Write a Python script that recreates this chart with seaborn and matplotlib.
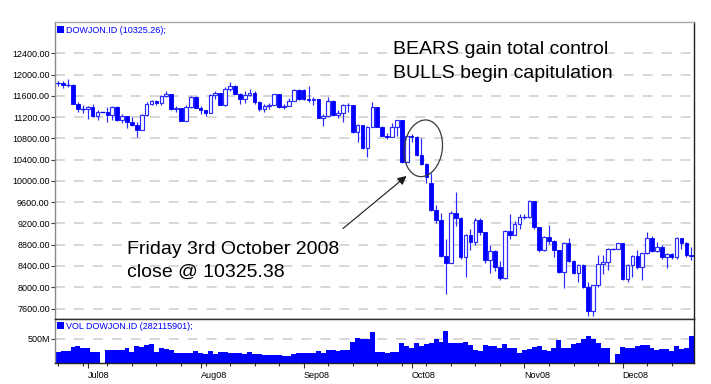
import numpy as np
import pandas as pd
import matplotlib
matplotlib.use("Agg")
import matplotlib.pyplot as plt
from matplotlib.patches import Ellipse, Rectangle
from matplotlib.transforms import IdentityTransform
import seaborn as sns

# ---------------- data ----------------
dates = pd.bdate_range("2008-06-23", "2008-12-19")  # vendor series: every weekday

opens = [11843, 11842, 11807, 11812, 11453, 11347, 11350, 11382, 11215, 11288,
         11288, 11232, 11384, 11147, 11229, 11100, 11055, 10963, 11239, 11447,
         11497, 11467, 11603, 11632, 11349, 11371, 11131, 11398, 11584, 11378,
         11326, 11284, 11616, 11656, 11431, 11734, 11782, 11642, 11533, 11616,
         11660, 11479, 11349, 11417, 11430, 11628, 11386, 11413, 11503, 11715,
         11715, 11544, 11517, 11533, 11188, 11221, 11511, 11231, 11269, 11434,
         11422, 10918, 11059, 10610, 11020, 11388, 11016, 10854, 10825, 11022,
         11143, 10365, 10851, 10831, 10483, 10325, 9956, 9447, 9258, 8579,
         8451, 9388, 9311, 8578, 8979, 8852, 9265, 9034, 8519, 8691,
         8379, 8176, 9065, 8991, 9181, 9325, 9320, 9625, 9139, 8696,
         8944, 8871, 8694, 8283, 8835, 8497, 8274, 8425, 7997, 7552,
         8046, 8443, 8479, 8727, 8727, 8829, 8149, 8419, 8592, 8376,
         8635, 8934, 8691, 8761, 8565, 8630, 8565, 8924, 8824, 8605]

highs = [11880, 11880, 11910, 11830, 11480, 11420, 11400, 11440, 11330, 11288,
         11390, 11400, 11400, 11260, 11230, 11200, 11100, 11260, 11480, 11520,
         11520, 11620, 11690, 11640, 11400, 11380, 11420, 11600, 11600, 11400,
         11340, 11630, 11700, 11660, 11760, 11860, 11800, 11660, 11700, 11720,
         11700, 11500, 11450, 11460, 11640, 11640, 11440, 11560, 11730, 11720,
         11720, 11790, 11580, 11540, 11250, 11580, 11530, 11330, 11440, 11460,
         11430, 11070, 11059, 11030, 11485, 11390, 11040, 10900, 11090, 11150,
         11143, 10853, 10880, 10840, 10800, 10330, 10140, 9540, 9400, 8900,
         9427, 9794, 9320, 9000, 9100, 9300, 9300, 9040, 8790, 8700,
         8500, 9080, 9380, 9250, 9370, 9380, 9650, 9630, 9140, 8960,
         9168, 8880, 8700, 8860, 8930, 8520, 8440, 8430, 8100, 8050,
         8600, 8600, 8740, 8727, 8840, 8830, 8430, 8610, 8700, 8650,
         9040, 8960, 8860, 8790, 8640, 8640, 8940, 8930, 8860, 8750]

lows = [11790, 11740, 11760, 11440, 11300, 11270, 11160, 11200, 11150, 11288,
        11107, 11150, 11130, 11080, 10990, 11030, 10827, 10950, 11230, 11420,
        11430, 11420, 11580, 11340, 11290, 11120, 11120, 11380, 11370, 11250,
        11230, 11280, 11550, 11420, 11400, 11700, 11630, 11440, 11460, 11590,
        11450, 11320, 11290, 11350, 11420, 11370, 11350, 11400, 11500, 11530,
        11530, 11480, 11420, 11180, 11030, 11220, 11220, 11180, 11100, 11300,
        10910, 10731, 10600, 10450, 11020, 11010, 10840, 10780, 10825, 10840,
        10330, 10365, 10740, 10460, 10300, 9953, 9430, 9200, 8570, 7882,
        8451, 9150, 8530, 8197, 8700, 8800, 8990, 8460, 8260, 8300,
        8130, 8150, 8900, 8990, 9100, 9280, 9300, 9100, 8660, 8690,
        8820, 8570, 8270, 7977, 8480, 8250, 8100, 7990, 7450, 7456,
        8000, 8250, 8322, 8727, 8720, 8140, 8100, 8200, 8350, 8134,
        8630, 8660, 8660, 8540, 8353, 8530, 8540, 8720, 8560, 8520]

closes = [11842, 11807, 11812, 11453, 11347, 11350, 11382, 11215, 11288, 11288,
          11232, 11384, 11147, 11229, 11100, 11055, 10963, 11239, 11447, 11497,
          11467, 11603, 11632, 11349, 11371, 11131, 11398, 11584, 11378, 11326,
          11284, 11616, 11656, 11431, 11734, 11782, 11642, 11533, 11616, 11660,
          11479, 11349, 11417, 11430, 11628, 11386, 11413, 11503, 11715, 11544,
          11544, 11517, 11533, 11188, 11221, 11511, 11231, 11269, 11434, 11422,
          10918, 11059, 10610, 11020, 11388, 11016, 10854, 10825, 11022, 11143,
          10365, 10851, 10831, 10483, 10325, 10078, 9447, 9258, 8579, 8451,
          9388, 9311, 8578, 8979, 8852, 9265, 9034, 8519, 8691, 8379,
          8176, 9065, 8991, 9181, 9325, 9320, 9625, 9139, 8696, 8944,
          8871, 8694, 8283, 8835, 8497, 8274, 8425, 7997, 7552, 8046,
          8443, 8479, 8727, 8727, 8829, 8149, 8419, 8592, 8376, 8635,
          8934, 8691, 8761, 8565, 8630, 8565, 8924, 8824, 8605, 8579]

volumes_m = [229, 250, 250, 333, 354, 312, 312, 229, 229, 0,
             264, 278, 264, 278, 299, 229, 354, 333, 368, 382,
             229, 299, 285, 264, 215, 215, 215, 215, 243, 208,
             194, 243, 194, 229, 229, 208, 208, 215, 194, 229,
             194, 194, 174, 174, 174, 174, 146, 146, 194, 208,
             208, 208, 208, 250, 215, 278, 278, 243, 264, 264,
             437, 507, 486, 493, 632, 229, 229, 208, 236, 236,
             403, 347, 299, 403, 347, 389, 403, 486, 424, 660,
             417, 417, 403, 424, 368, 264, 243, 368, 354, 354,
             312, 382, 312, 319, 215, 264, 285, 333, 347, 264,
             257, 299, 472, 312, 312, 382, 403, 493, 562, 493,
             403, 299, 299, 0, 194, 333, 312, 312, 347, 368,
             368, 299, 278, 285, 285, 250, 347, 285, 299, 556]

price_ticks = [7600, 8000, 8400, 8800, 9200, 9600, 10000, 10400,
               10800, 11200, 11600, 12000, 12400]
volume_ticks = [500]
volume_tick_labels = ["500M"]
month_labels = ["Jul08", "Aug08", "Sep08", "Oct08", "Nov08", "Dec08"]
price_legend = "DOWJON.ID (10325.26);"
volume_legend = "VOL DOWJON.ID (282115901);"

# ---------------- style ----------------
sns.set_theme(style="white")
plt.rcParams["font.family"] = ["Liberation Sans", "DejaVu Sans"]

W, H = 711, 384
BLUE = "#0000ff"
HOLLOW_EDGE = "#2a2aff"
GRID = "#d4d4d4"

df = pd.DataFrame({"date": dates, "open": opens, "high": highs, "low": lows,
                   "close": closes, "volume": volumes_m})
df["idx"] = np.arange(len(df))

fig = plt.figure(figsize=(W / 100, H / 100), dpi=100)
fig.patch.set_facecolor("white")


def fx(px):
    return px / W


def fy(py):
    return 1 - py / H


ax = fig.add_axes([fx(55), fy(318.5), fx(694) - fx(55), fy(22) - fy(318.5)])
axv = fig.add_axes([fx(55), fy(363), fx(694) - fx(55), fy(318.5) - fy(363)], sharex=ax)

for a in (ax, axv):
    a.set_facecolor("white")

# ---------------- candles ----------------
idx = df["idx"].to_numpy()
o = df["open"].to_numpy(float)
c = df["close"].to_numpy(float)
hi = df["high"].to_numpy(float)
lo = df["low"].to_numpy(float)
up = c >= o
body_b = np.minimum(o, c)
body_h = np.abs(c - o)

ax.vlines(idx, lo, hi, color=HOLLOW_EDGE, lw=0.85, zorder=2)
ax.bar(idx[~up], body_h[~up], bottom=body_b[~up], width=0.74,
       color=BLUE, edgecolor=BLUE, lw=0.6, zorder=3)
ax.bar(idx[up], body_h[up], bottom=body_b[up], width=0.74,
       facecolor="white", edgecolor=HOLLOW_EDGE, lw=0.85, zorder=3)
doji = body_h < 12
ax.hlines(c[doji], idx[doji] - 0.45, idx[doji] + 0.45, color=BLUE, lw=0.9, zorder=4)

ax.set_ylim(7412, 12989)
ax.set_xlim(-0.67, 129.55)
ax.set_yticks(price_ticks)
ax.set_yticklabels([f"{v:.2f}" for v in price_ticks])
ax.yaxis.grid(True, color=GRID, ls=(0, (5.5, 5)), lw=1.3)
ax.xaxis.grid(False)
ax.set_axisbelow(True)
ax.tick_params(axis="y", left=True, length=3, width=0.8, color="#404040",
               pad=0.8, labelsize=6.5, labelcolor="black")
ax.tick_params(axis="x", bottom=False, labelbottom=False)
ax.set_xlabel("")
ax.set_ylabel("")

# ---------------- volume ----------------
sns.histplot(data=df, x="idx", weights="volume", discrete=True,
             element="step", fill=True, color=BLUE, alpha=1, linewidth=0,
             ax=axv)
axv.set_ylim(0, 917)
axv.set_xlim(-0.67, 129.55)
axv.set_yticks(volume_ticks)
axv.set_yticklabels(volume_tick_labels)
axv.yaxis.grid(True, color=GRID, ls=(0, (5.5, 5)), lw=1.3)
axv.xaxis.grid(False)
axv.set_axisbelow(True)
axv.set_xlabel("")
axv.set_ylabel("")
axv.tick_params(axis="y", left=True, length=3, width=0.8, color="#404040",
                pad=0.8, labelsize=6.5, labelcolor="black")

month_pos = [int(df.index[(df["date"].dt.month == m)][0]) for m in range(7, 13)]
mondays = df.loc[df["date"].dt.dayofweek == 0, "idx"].to_numpy()
axv.set_xticks(month_pos)
axv.set_xticklabels(month_labels, ha="left")
axv.set_xticks(mondays, minor=True)
axv.tick_params(axis="x", which="major", bottom=True, length=3.5, width=0.8,
                color="#303030", pad=2.5, labelsize=6.5, labelcolor="black")
axv.tick_params(axis="x", which="minor", bottom=True, length=1.8, width=0.8,
                color="#303030")
for lab in axv.get_xticklabels():
    lab.set_horizontalalignment("left")

# ---------------- frames ----------------
for a in (ax, axv):
    for s in a.spines.values():
        s.set_visible(True)
        s.set_linewidth(1.0)
    a.spines["left"].set_color("#8a8a8a")
    a.spines["right"].set_color("#202020")
    a.spines["bottom"].set_color("#202020")
ax.spines["top"].set_color("#a8a8a8")
axv.spines["top"].set_color("#303030")

# ---------------- legends (blue square + text) ----------------
for sq_top, txt_base, label in [(26, 33.2, price_legend), (322.3, 329.3, volume_legend)]:
    fig.add_artist(Rectangle((fx(56.7), fy(sq_top + 7)), fx(7.3), 7 / H,
                             transform=fig.transFigure, facecolor=BLUE,
                             edgecolor="none", zorder=10))
    fig.text(fx(65.5), fy(txt_base), label, color=BLUE, fontsize=6.5,
             va="baseline", ha="left", zorder=10)

# ---------------- annotations ----------------
fig.text(fx(393), fy(54.5), "BEARS gain total control", fontsize=14,
         va="baseline", ha="left", color="black")
fig.text(fx(393), fy(78.5), "BULLS begin capitulation", fontsize=14,
         va="baseline", ha="left", color="black")
fig.text(fx(127), fy(253.5), "Friday 3rd October 2008", fontsize=14,
         va="baseline", ha="left", color="black")
fig.text(fx(127), fy(277), "close @ 10325.38", fontsize=14,
         va="baseline", ha="left", color="black")

fig.add_artist(Ellipse((423.3, H - 148.3), 38, 57, angle=-8,
                       transform=IdentityTransform(), fill=False,
                       edgecolor="#3a3a3a", lw=0.9, zorder=11))
ax.annotate("", xy=(406.5, H - 176), xytext=(343, H - 228.5),
            xycoords="figure pixels", textcoords="figure pixels",
            arrowprops=dict(arrowstyle="-|>", color="#1a1a1a", lw=0.8,
                            mutation_scale=13, shrinkA=0, shrinkB=0),
            zorder=11)

fig.savefig("out.png", dpi=100, facecolor="white")
